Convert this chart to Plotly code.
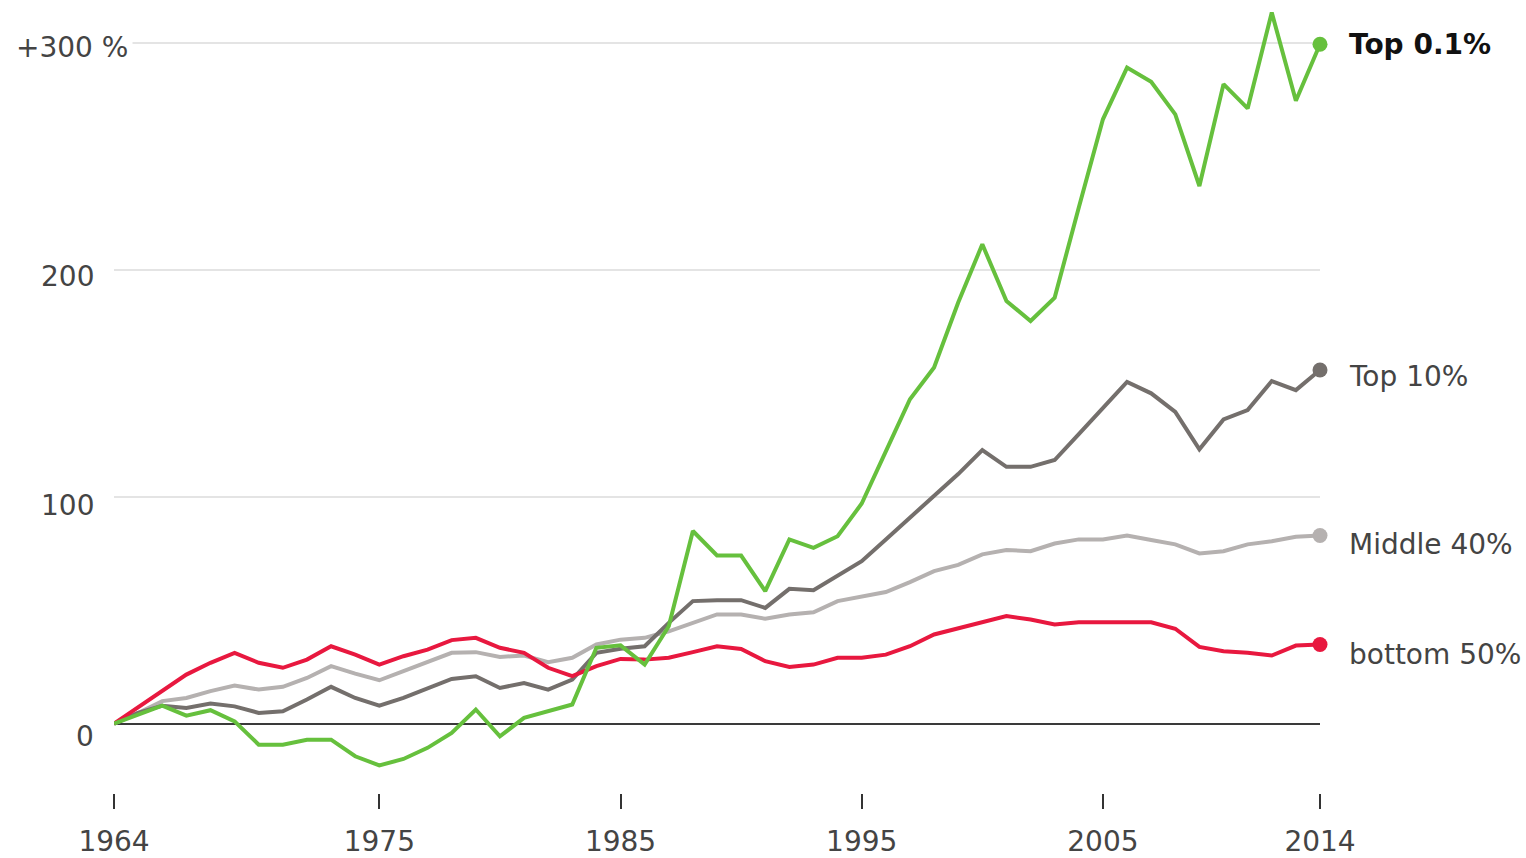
import plotly.graph_objects as go

# percent change in income since 1964, by group
years = list(range(1964, 2015))

top_01 = [0, 4, 7.9, 3.5, 5.9, 1, -9.3, -9.3, -7.1, -7.1,
          -14.4, -18.4, -15.6, -10.7, -4.1, 6.2, -5.6, 2.5, 5.4, 8.4,
          33.4, 34.5, 26, 42.9, 84.9, 74.1, 74.1, 58.4, 81.2, 77.5,
          82.6, 97, 120, 143, 157, 185.6, 211.3, 186.3, 177.5, 187.8,
          227.5, 266.4, 289.2, 282.9, 268.6, 237, 281.9, 271.2, 313.5, 274.6,
          299.5]
top_10 = [0, 4.7, 7.9, 6.9, 8.8, 7.6, 4.7, 5.4, 10.6, 16.2,
          11.3, 7.9, 11.3, 15.7, 19.7, 20.9, 15.7, 17.9, 15, 19.4,
          31.2, 33, 34.1, 44.4, 54, 54.4, 54.4, 51, 59.4, 58.8,
          65, 71.6, 81.2, 90.7, 100, 110, 120.6, 113.2, 113.2, 116.2,
          127.6, 139, 150.6, 145.6, 137.4, 120.9, 134.1, 138.2, 151, 147,
          155.9]
middle_40 = [0, 4.7, 9.9, 11.3, 14.3, 16.8, 15, 16.2, 20.1, 25.3,
             22, 19.1, 23.1, 27.1, 31.2, 31.5, 29.4, 30, 27.1, 29,
             34.9, 37, 37.8, 40.7, 44.4, 48.1, 48.1, 46.2, 48.1, 49.1,
             54, 56.2, 58, 62.4, 67.2, 70, 74.6, 76.5, 76, 79.4,
             81.2, 81.2, 82.9, 80.9, 79, 75, 76, 79, 80.4, 82.4,
             82.9]
bottom_50 = [0, 7.2, 14.4, 21.6, 26.8, 31.2, 26.8, 24.6, 28.2, 34.1,
             30.4, 26, 29.7, 32.6, 36.8, 37.8, 33.4, 31.2, 24.6, 20.9,
             25.3, 28.5, 28.2, 29, 31.5, 34.1, 32.9, 27.5, 25, 26,
             29, 29, 30.4, 34.1, 39.3, 42, 45.1, 47.4, 45.9, 43.7,
             44.7, 44.7, 44.7, 44.7, 41.8, 33.8, 31.9, 31.2, 30, 34.4,
             34.9]

x_ticks = [1964, 1975, 1985, 1995, 2005, 2014]
y_ticks = [0, 100, 200, 300]
y_labels = ["0", "100", "200", "+300 %"]

FONT = "DejaVu Sans"
TXT = "#444444"

# (name, values, colour, label colour, bold, label y offset)
series = [
    ("Middle 40%", middle_40, "#b5b1b0", TXT, False, -9),
    ("Top 10%", top_10, "#746f6c", TXT, False, -7),
    ("bottom 50%", bottom_50, "#e8183f", TXT, False, -10),
    ("Top 0.1%", top_01, "#66c03d", "#111111", True, 0),
]

fig = go.Figure()

for name, vals, col, lcol, bold, dy in series:
    fig.add_trace(go.Scatter(x=years, y=vals, mode="lines", name=name,
                             line=dict(color=col, width=4)))
    # dot at the end of each line
    fig.add_trace(go.Scatter(x=[years[-1]], y=[vals[-1]], mode="markers",
                             marker=dict(color=col, size=15),
                             cliponaxis=False, showlegend=False))
    fig.add_annotation(x=years[-1], y=vals[-1], text=f"<b>{name}</b>" if bold else name,
                       showarrow=False, xanchor="left", yanchor="middle",
                       xshift=27, yshift=dy,
                       font=dict(family=FONT, size=28, color=lcol))

# y axis labels sit a bit under their gridlines
for v, lab, dy in zip(y_ticks, y_labels, [-13, -9, -7, -4]):
    if lab.startswith("+"):
        fig.add_annotation(x=0, xref="paper", y=v, text=lab, showarrow=False,
                           xanchor="left", xshift=-103, yshift=dy,
                           bgcolor="white", borderpad=4,
                           font=dict(family=FONT, size=28, color=TXT))
    else:
        fig.add_annotation(x=0, xref="paper", y=v, text=lab, showarrow=False,
                           xanchor="right", xshift=-18, yshift=dy,
                           font=dict(family=FONT, size=28, color=TXT))

fig.update_layout(
    width=1526, height=858,
    margin=dict(l=114, r=206, t=0, b=65),
    plot_bgcolor="white", paper_bgcolor="white",
    showlegend=False,
    font=dict(family=FONT, size=28, color=TXT),
    xaxis=dict(range=[1964, 2014], tickvals=x_ticks, ticks="outside",
               ticklen=15, tickwidth=2, tickcolor="#333333",
               showgrid=False, showline=False, zeroline=False,
               ticklabelstandoff=8,
               tickfont=dict(family=FONT, size=28, color=TXT)),
    yaxis=dict(range=[-30.6, 319], tickvals=y_ticks, showticklabels=False,
               gridcolor="#e4e4e4", gridwidth=2,
               zeroline=True, zerolinecolor="#3a3a3a", zerolinewidth=2),
)

# page margin would push the figure 8px off
fig.write_html("out.html", config={"displayModeBar": False},
               post_script="document.body.style.margin='0';")
